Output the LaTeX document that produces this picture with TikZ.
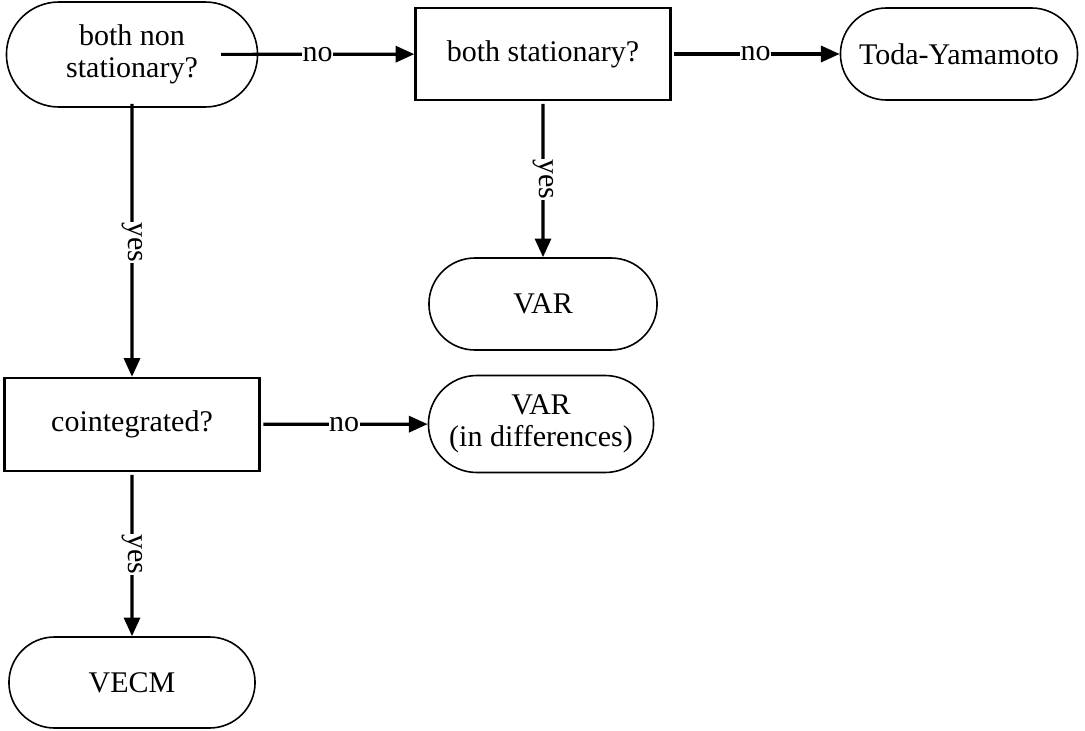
\documentclass[tikz,border=0pt]{standalone}
\usepackage{fontspec}
\setmainfont{Liberation Serif}
\usetikzlibrary{arrows.meta, shapes.misc}
\tikzset {
    >={Triangle[length=14pt, width=12pt]},
    every edge/.style={draw, ->, line width=2.4pt},
    every node/.style={font=\fontsize{22.5}{24}\selectfont, align=center},
    decision/.style={draw, rectangle, line width=1.8pt, minimum height=70pt},
    outcome/.style={draw, rounded rectangle, line width=1.2pt, minimum height=69pt},
    lbl/.style={fill=white, inner sep=0.5pt},
    ylbl/.style={lbl, rotate=-90}
}

\begin{document}
\begin{tikzpicture}[x=0.75pt, y=-0.75pt]
    \useasboundingbox (0,0) rectangle (1085,731);

    \node[outcome, minimum width=195pt, minimum height=78.75pt] (nonstat) at (132,54.5) {both non\\stationary?};
    \node[decision, minimum width=191.25pt, minimum height=69pt] (stat) at (543,54) {both stationary?};
    \node[outcome, minimum width=184.5pt] (toda) at (959,54) {Toda-Yamamoto};
    \node[outcome, minimum width=177.75pt] (var) at (543,304) {VAR};
    \node[decision, minimum width=191.25pt, minimum height=69.75pt] (coint) at (132,424.5) {cointegrated?};
    \node[outcome, minimum width=175.5pt, minimum height=72.75pt] (vardiff) at (541,424) {VAR\\(in differences)};
    \node[outcome, minimum width=191.25pt, minimum height=68.25pt] (vecm) at (132,682.5) {VECM};

    \draw
    (nonstat) edge[shorten <=-28pt] node[lbl, pos=0.38]{no} (stat)
    (nonstat) edge[shorten <=-3pt] node[ylbl]{yes} (coint)
    (stat) edge[shorten <=2pt] node[lbl]{no} (toda)
    (stat) edge[shorten <=2pt] node[ylbl]{yes} (var)
    (coint) edge[shorten <=2pt] node[lbl]{no} (vardiff)
    (coint) edge[shorten <=2pt] node[ylbl]{yes} (vecm);
\end{tikzpicture}
\end{document}
